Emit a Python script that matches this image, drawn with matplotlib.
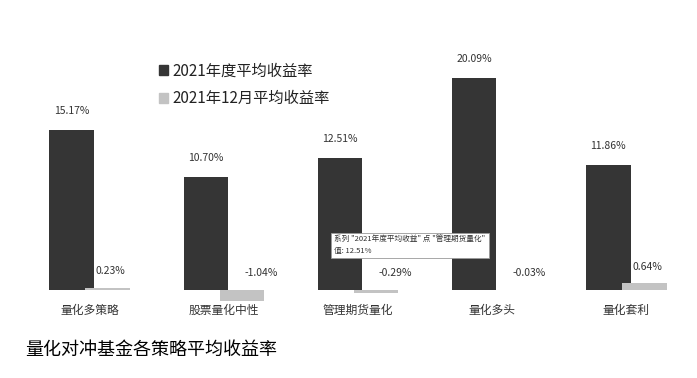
import numpy as np
import matplotlib
matplotlib.use("Agg")
import matplotlib.pyplot as plt
from matplotlib.patches import Patch

plt.rcParams["font.family"] = ["Noto Sans CJK SC", "DejaVu Sans"]

categories = ["量化多策略", "股票量化中性", "管理期货量化", "量化多头", "量化套利"]
annual = [15.17, 10.70, 12.51, 20.09, 11.86]
december = [0.23, -1.04, -0.29, -0.03, 0.64]
series_names = ["2021年度平均收益率", "2021年12月平均收益率"]

dark = "#353535"
light = "#c3c3c3"

fig = plt.figure(figsize=(6.97, 3.78), dpi=100)
ax = fig.add_axes([0.0, 0.199, 1.0, 0.722])

x = np.arange(len(categories))
w = 0.332
off = 0.134

ax.bar(x - off, annual, w, color=dark, zorder=2)
ax.bar(x + off, december, w, color=light, zorder=3)

for xi, v in zip(x, annual):
    ax.annotate(f"{v:.2f}%", (xi - off, v), xytext=(0, 10), textcoords="offset points",
                ha="center", va="bottom", fontsize=7.5, color="#333333")
for xi, v in zip(x, december):
    dx = 14 if v < 0 else 2
    ax.annotate(f"{v:.2f}%", (xi + off, max(v, 0)), xytext=(dx, 12), textcoords="offset points",
                ha="center", va="center", fontsize=7.5, color="#333333")

ax.set_xlim(-0.669, 4.527)
ax.set_ylim(-1.2, 24.6)
ax.set_xticks(x)
ax.set_xticklabels(categories, fontsize=8.5, color="#333333")
ax.tick_params(axis="x", length=0, pad=1)
ax.set_yticks([])
for s in ax.spines.values():
    s.set_visible(False)

handles = [Patch(color=dark), Patch(color=light)]
fig.legend(handles, series_names, loc="upper left", bbox_to_anchor=(151 / 697, 1 - 55 / 378),
           frameon=False, fontsize=11, handlelength=0.6, handleheight=0.6, borderpad=0,
           handletextpad=0.3, labelspacing=0.7, labelcolor="#222222")

# tooltip left over from the screenshot
fig.text(334 / 697, 1 - 236 / 378,
         "系列 \"2021年度平均收益\" 点 \"管理期货量化\"\n值: 12.51%",
         fontsize=5.5, va="top", ha="left", color="#333333", linespacing=1.5,
         bbox=dict(boxstyle="square,pad=0.45", fc="white", ec="#999999", lw=0.6))

fig.text(25 / 697, 1 - 350 / 378, "量化对冲基金各策略平均收益率", fontsize=13,
         va="center", ha="left", color="black")

fig.savefig("out.png", dpi=100, facecolor="white")
